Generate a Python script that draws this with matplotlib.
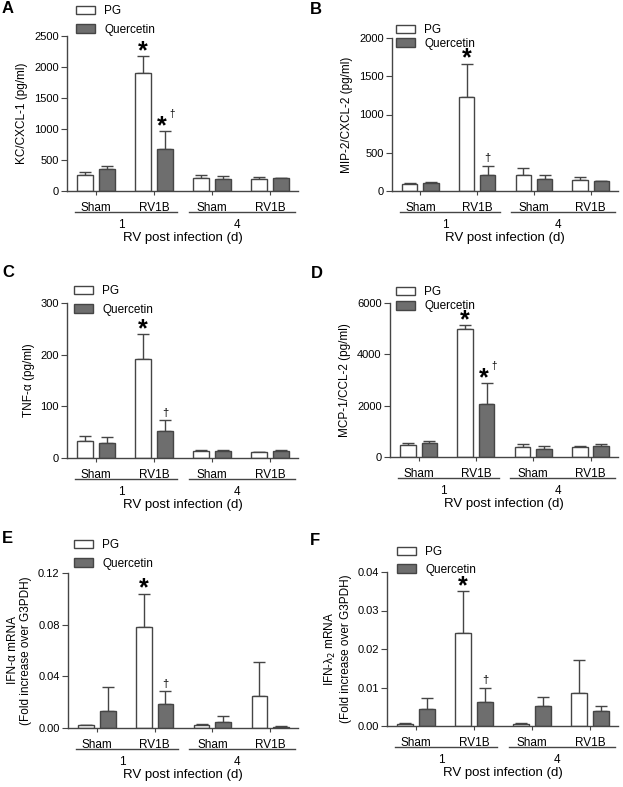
import numpy as np
import matplotlib
matplotlib.use("Agg")
import matplotlib.pyplot as plt

plt.rcParams['font.family'] = ['Liberation Sans', 'DejaVu Sans']

W, H = 623, 787
groups = ["Sham", "RV1B", "Sham", "RV1B"]
series = ["PG", "Quercetin"]

# A: KC/CXCL-1
kc_pg = [253, 1903, 215, 199]
kc_pg_err = [53, 274, 48, 32]
kc_q = [360, 683, 194, 210]
kc_q_err = [43, 279, 43, 0]

# B: MIP-2/CXCL-2
mip_pg = [87, 1229, 213, 148]
mip_pg_err = [13, 435, 88, 35]
mip_q = [105, 205, 161, 126]
mip_q_err = [13, 122, 44, 9]

# C: TNF-alpha
tnf_pg = [33.5, 191.6, 13.5, 11]
tnf_pg_err = [8.5, 48.4, 2.5, 1]
tnf_q = [30, 51.6, 13.5, 13]
tnf_q_err = [10, 21.4, 2, 2]

# D: MCP-1/CCL-2
mcp_pg = [455, 5000, 390, 390]
mcp_pg_err = [77, 130, 130, 52]
mcp_q = [558, 2078, 325, 416]
mcp_q_err = [52, 805, 117, 104]

# E: IFN-alpha mRNA
ifna_pg = [0.0021, 0.078, 0.0026, 0.0244]
ifna_pg_err = [0.0005, 0.026, 0.0005, 0.0264]
ifna_q = [0.0132, 0.0189, 0.0049, 0.0008]
ifna_q_err = [0.0182, 0.0094, 0.0044, 0.0005]

# F: IFN-lambda2 mRNA
ifnl_pg = [0.0005, 0.0242, 0.0005, 0.0086]
ifnl_pg_err = [0.0004, 0.0108, 0.0003, 0.0085]
ifnl_q = [0.0043, 0.0063, 0.0051, 0.0040]
ifnl_q_err = [0.0031, 0.0036, 0.0024, 0.0012]

panels = [
    dict(tag="A", ylabel="KC/CXCL-1 (pg/ml)", pg=kc_pg, pge=kc_pg_err, q=kc_q, qe=kc_q_err,
         ymax=2500, yticks=[0, 500, 1000, 1500, 2000, 2500], fmt="{:.0f}", qmark="*†",
         box=(67, 36, 298, 191), leg=(76, 5), lsp=0.58, tagpos=(2, 1)),
    dict(tag="B", ylabel="MIP-2/CXCL-2 (pg/ml)", pg=mip_pg, pge=mip_pg_err, q=mip_q, qe=mip_q_err,
         ymax=2000, yticks=[0, 500, 1000, 1500, 2000], fmt="{:.0f}", qmark="†",
         box=(392, 38, 618, 191), leg=(396, 24), lsp=0.15, tagpos=(310, 2)),
    dict(tag="C", ylabel="TNF-α (pg/ml)", pg=tnf_pg, pge=tnf_pg_err, q=tnf_q, qe=tnf_q_err,
         ymax=300, yticks=[0, 100, 200, 300], fmt="{:.0f}", qmark="†",
         box=(67, 303, 298, 458), leg=(74, 285), lsp=0.58, tagpos=(2, 265)),
    dict(tag="D", ylabel="MCP-1/CCL-2 (pg/ml)", pg=mcp_pg, pge=mcp_pg_err, q=mcp_q, qe=mcp_q_err,
         ymax=6000, yticks=[0, 2000, 4000, 6000], fmt="{:.0f}", qmark="*†",
         box=(390, 303, 618, 457), leg=(396, 286), lsp=0.2, tagpos=(311, 266)),
    dict(tag="E", ylabel="IFN-α mRNA\n(Fold increase over G3PDH)", pg=ifna_pg, pge=ifna_pg_err,
         q=ifna_q, qe=ifna_q_err, ymax=0.12, yticks=[0, 0.04, 0.08, 0.12], fmt="{:.2f}", qmark="†",
         box=(68, 573, 298, 728), leg=(74, 539), lsp=0.58, tagpos=(2, 531)),
    dict(tag="F", ylabel="IFN-λ$_2$ mRNA\n(Fold increase over G3PDH)", pg=ifnl_pg, pge=ifnl_pg_err,
         q=ifnl_q, qe=ifnl_q_err, ymax=0.04, yticks=[0, 0.01, 0.02, 0.03, 0.04], fmt="{:.2f}", qmark="†",
         box=(387, 572, 618, 726), leg=(397, 546), lsp=0.5, tagpos=(310, 533)),
]

axc = "#454545"
qcol = "#6e6e6e"
fig = plt.figure(figsize=(W / 100, H / 100), dpi=100)

x = np.arange(len(groups))
bw = 0.27
off = 0.187

for p in panels:
    l, t, r, b = p["box"]
    ax = fig.add_axes([l / W, 1 - b / H, (r - l) / W, (b - t) / H])
    b1 = ax.bar(x - off, p["pg"], bw, color="white", edgecolor=axc, linewidth=1.0, zorder=2)
    b2 = ax.bar(x + off, p["q"], bw, color=qcol, edgecolor=axc, linewidth=1.0, zorder=2)
    ax.errorbar(x - off, p["pg"], yerr=[np.zeros(4), p["pge"]], fmt="none", ecolor=axc,
                elinewidth=1.0, capsize=4, capthick=1.0, zorder=1)
    ax.errorbar(x + off, p["q"], yerr=[np.zeros(4), p["qe"]], fmt="none", ecolor=axc,
                elinewidth=1.0, capsize=4, capthick=1.0, zorder=1)

    ax.set_xlim(-0.5, 3.48)
    ax.set_ylim(0, p["ymax"])
    ax.set_yticks(p["yticks"])
    ax.set_yticklabels([p["fmt"].format(v) for v in p["yticks"]], fontsize=8)
    ax.set_xticks(x)
    ax.set_xticklabels(groups, fontsize=8.5)
    ax.tick_params(axis="x", length=3, color=axc, pad=5)
    ax.tick_params(axis="y", length=4, color=axc, pad=2)
    for s in ["top", "right"]:
        ax.spines[s].set_visible(False)
    for s in ["left", "bottom"]:
        ax.spines[s].set_color(axc)
        ax.spines[s].set_linewidth(1.0)
    ax.set_ylabel(p["ylabel"], fontsize=8.5, labelpad=4)

    # significance marks
    top_pg = p["pg"][1] + p["pge"][1]
    ax.annotate("*", (x[1] - off, top_pg), xytext=(0, -5), textcoords="offset points",
                ha="center", va="bottom", fontsize=18, fontweight="bold")
    top_q = p["q"][1] + p["qe"][1]
    if p["qmark"] == "*†":
        ax.annotate("*", (x[1] + off, top_q), xytext=(-2, -5), textcoords="offset points",
                    ha="center", va="bottom", fontsize=18, fontweight="bold")
        ax.annotate("†", (x[1] + off, top_q), xytext=(5, 9), textcoords="offset points",
                    ha="center", va="bottom", fontsize=7)
    else:
        ax.annotate("†", (x[1] + off, top_q), xytext=(0, 2), textcoords="offset points",
                    ha="center", va="bottom", fontsize=8)

    # day group underlines and labels
    trans = ax.get_xaxis_transform()
    yline = -21 / (b - t)
    for (x0, x1, day) in [(-0.36, 1.4, "1"), (1.6, 3.42, "4")]:
        ax.plot([x0, x1], [yline, yline], color=axc, lw=1.0, transform=trans, clip_on=False)
        ax.text((x0 + x1) / 2 - 0.08, -28 / (b - t), day, transform=trans, ha="center", va="top",
                fontsize=8.5)
    ax.text(0.5, -41 / (b - t), "RV post infection (d)", transform=ax.transAxes,
            ha="center", va="top", fontsize=9.5)

    # legend
    lx, ly = p["leg"]
    ax.legend([b1, b2], series, loc="upper left", bbox_to_anchor=(lx / W, 1 - ly / H),
              bbox_transform=fig.transFigure, frameon=False, fontsize=8.5, borderpad=0,
              borderaxespad=0, handlelength=1.6, handleheight=0.75, handletextpad=0.8,
              labelspacing=p["lsp"])

    tx, ty = p["tagpos"]
    fig.text(tx / W, 1 - ty / H, p["tag"], fontsize=12, fontweight="bold", va="top", ha="left")

fig.savefig("out.png", dpi=100)
